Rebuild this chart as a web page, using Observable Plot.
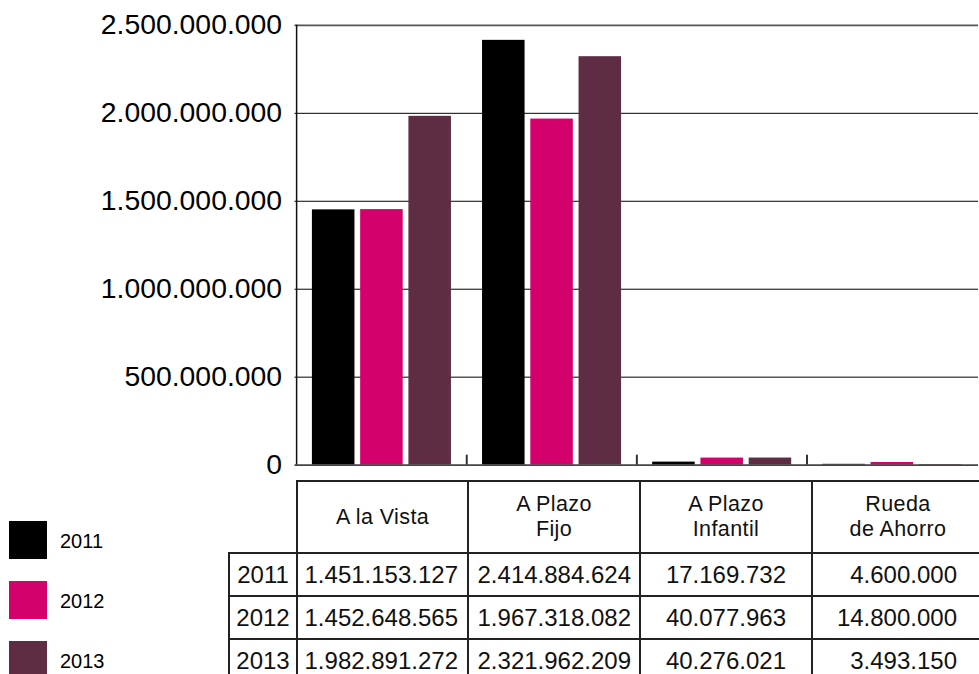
<!DOCTYPE html>
<html><head><meta charset="utf-8">
<script src="https://cdn.jsdelivr.net/npm/d3@7"></script>
<script src="https://cdn.jsdelivr.net/npm/@observablehq/plot@0.6"></script>
<style>
html,body{margin:0;padding:0;background:#fff;overflow:hidden;}
#wrap{position:relative;width:979px;height:674px;overflow:hidden;font-family:"Liberation Sans",Arial,sans-serif;color:#000;}
#chart{position:absolute;left:0;top:0;}
#tbl{position:absolute;left:228px;top:480px;border-collapse:collapse;table-layout:fixed;font-size:24px;color:#111;}
#tbl td{border:2px solid #222;padding:0;vertical-align:middle;white-space:nowrap;overflow:hidden;}
#tbl td.blank{border-top:none;border-left:none;}
#tbl tr.head td{height:70px;text-align:center;font-size:21.5px;letter-spacing:0.4px;}
#tbl tr.head td div{height:25px;line-height:25px;}
#tbl tr.data td{height:41px;}
#tbl td.yr{text-align:center;}
#legend .item{position:absolute;left:9px;width:38px;height:38px;}
#legend .lab{position:absolute;left:60px;font-size:20px;line-height:20px;}
</style>
</head><body>
<div id="wrap">
  <div id="chart"></div>
  <table id="tbl"></table>
  <div id="legend"></div>
</div>
<script>
// ---- data ----
const categories = ["A la Vista", "A Plazo Fijo", "A Plazo Infantil", "Rueda de Ahorro"];
const headerLines = [["A la Vista"], ["A Plazo", "Fijo"], ["A Plazo", "Infantil"], ["Rueda", "de Ahorro"]];
const years = ["2011", "2012", "2013"];
const values2011 = [1451153127, 2414884624, 17169732, 4600000];
const values2012 = [1452648565, 1967318082, 40077963, 14800000];
const values2013 = [1982891272, 2321962209, 40276021, 3493150];
const yTicks = [0, 500000000, 1000000000, 1500000000, 2000000000, 2500000000];
const colors = ["#000000", "#D4006B", "#5E2D43"];

const series = [values2011, values2012, values2013];
const rows = [];
years.forEach((yr, i) => categories.forEach((c, j) => rows.push({year: yr, category: c, value: series[i][j]})));

const loc = d3.formatLocale({decimal: ",", thousands: ".", grouping: [3], currency: ["", ""]});
const fmt = loc.format(",d");

const W = 984, mL = 296, mR = 1;
const band = (W - mL - mR) / categories.length;
const barW = 43.5, gap = 5, off = 15.5;

const marks = [
  Plot.ruleY(yTicks.slice(1, -1), {stroke: "#000", strokeWidth: 1}),
  Plot.ruleY([yTicks[yTicks.length - 1]], {stroke: "#555", strokeWidth: 2}),
];
years.forEach((yr, i) => {
  const l = off + i * (barW + gap);
  marks.push(Plot.barY(rows.filter(d => d.year === yr), {
    x: "category", y: "value", fill: colors[i],
    insetLeft: l, insetRight: band - l - barW
  }));
});
marks.push(
  Plot.ruleY([0], {stroke: "#444", strokeWidth: 2}),
  Plot.ruleX([categories[0]], {dx: -band / 2, stroke: "#111", strokeWidth: 1.5}),
  Plot.ruleX(categories.slice(1), {dx: -band / 2, stroke: "#333", strokeWidth: 2, insetTop: 432})
);

const chart = Plot.plot({
  width: W, height: 470,
  marginLeft: mL, marginRight: mR, marginTop: 25, marginBottom: 3,
  style: {fontSize: "28.5px", fontFamily: "'Liberation Sans', Arial, sans-serif", color: "#000", background: "transparent", overflow: "visible"},
  x: {type: "band", domain: categories, padding: 0, axis: null},
  y: {domain: [0, 2500000000], ticks: yTicks, tickFormat: fmt, tickSize: 0, tickPadding: 13, label: null},
  marks
});
document.getElementById("chart").appendChild(chart);

// ---- table ----
const tbl = document.getElementById("tbl");
const colW = [68, 171, 172, 172, 172];
tbl.style.width = colW.reduce((a, b) => a + b, 0) + "px";
const cg = document.createElement("colgroup");
colW.forEach(w => { const c = document.createElement("col"); c.style.width = w + "px"; cg.appendChild(c); });
tbl.appendChild(cg);
const hr = document.createElement("tr"); hr.className = "head";
const blank = document.createElement("td"); blank.className = "blank"; hr.appendChild(blank);
headerLines.forEach(lines => {
  const td = document.createElement("td");
  lines.forEach(t => { const d = document.createElement("div"); d.textContent = t; td.appendChild(d); });
  hr.appendChild(td);
});
tbl.appendChild(hr);
const padR = [9, 8, 25, 26];
years.forEach((yr, i) => {
  const tr = document.createElement("tr"); tr.className = "data";
  const ty = document.createElement("td"); ty.className = "yr"; ty.textContent = yr; tr.appendChild(ty);
  series[i].forEach((v, j) => {
    const td = document.createElement("td"); td.textContent = fmt(v);
    td.style.textAlign = "right"; td.style.paddingRight = padR[j] + "px";
    tr.appendChild(td);
  });
  tbl.appendChild(tr);
});

// ---- legend ----
const lg = document.getElementById("legend");
years.forEach((yr, i) => {
  const top = 521 + i * 60;
  const sw = document.createElement("div"); sw.className = "item"; sw.style.top = top + "px"; sw.style.background = colors[i];
  const lb = document.createElement("div"); lb.className = "lab"; lb.style.top = (top + 10) + "px"; lb.textContent = yr;
  lg.appendChild(sw); lg.appendChild(lb);
});
</script>
</body></html>
